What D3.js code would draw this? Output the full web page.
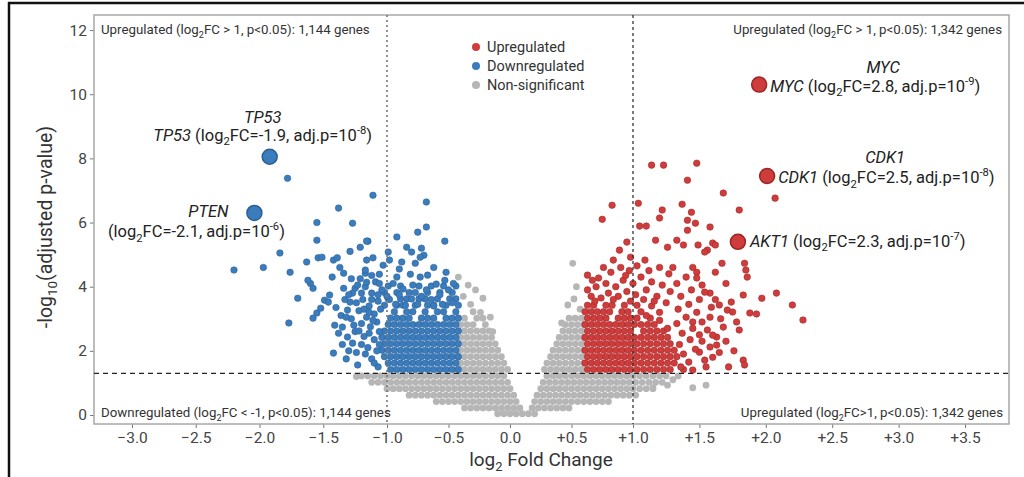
<!DOCTYPE html>
<html><head><meta charset="utf-8">
<script src="https://cdn.jsdelivr.net/npm/d3@7"></script>
<style>body{margin:0;background:#fff}svg{display:block;font-family:Roboto,"Noto Sans",sans-serif}</style>
</head><body><svg id="c" width="1024" height="477"></svg>
<script>
// ---------- DATA ----------
const xTicks = [-3,-2.5,-2,-1.5,-1,-0.5,0,0.5,1,1.5,2,2.5,3,3.5];
const yTicks = [0,2,4,6,8,10,12];
const fcThresholds = [-1, 1];
const pThreshold = 1.3;

// Non-significant genes, dense band: [y, [x...]]
const nsRows = [
 [0.04,[-0.1,-0.05,0,0.05,0.1,0.15,0.2]],
 [0.22,[-0.37,-0.32,-0.27,-0.22,-0.17,-0.12,-0.07,-0.02,0.03,0.08,0.18,0.23,0.28,0.33,0.38,0.43,0.48]],
 [0.42,[-0.6,-0.55,-0.5,-0.45,-0.4,-0.35,-0.3,-0.25,-0.2,-0.15,-0.1,-0.05,0,0.05,0.2,0.25,0.3,0.35,0.4,0.45,0.5,0.55,0.6,0.65,0.7,0.75,0.8]],
 [0.62,[-0.82,-0.77,-0.72,-0.67,-0.62,-0.57,-0.52,-0.47,-0.42,-0.37,-0.32,-0.27,-0.22,-0.17,-0.12,-0.07,-0.02,0.03,0.22,0.27,0.32,0.37,0.42,0.47,0.52,0.57,0.62,0.67,0.72,0.77,0.82,0.87,0.92,0.97,1.02]],
 [0.82,[-1,-0.95,-0.9,-0.85,-0.8,-0.75,-0.7,-0.65,-0.6,-0.55,-0.5,-0.45,-0.4,-0.35,-0.3,-0.25,-0.2,-0.15,-0.1,-0.05,0,0.25,0.3,0.35,0.4,0.45,0.5,0.55,0.6,0.65,0.7,0.75,0.8,0.85,0.9,0.95,1,1.05,1.1,1.15]],
 [1.02,[-1.12,-1.07,-1.02,-0.97,-0.92,-0.87,-0.82,-0.77,-0.72,-0.67,-0.62,-0.57,-0.52,-0.47,-0.42,-0.37,-0.32,-0.27,-0.22,-0.17,-0.12,-0.07,-0.02,0.27,0.32,0.37,0.42,0.47,0.52,0.57,0.62,0.67,0.72,0.77,0.82,0.87,0.92,0.97,1.02,1.07,1.12,1.17,1.22]],
 [1.22,[-1.2,-1.15,-1.1,-1.05,-1,-0.95,-0.9,-0.85,-0.8,-0.75,-0.7,-0.65,-0.6,-0.55,-0.5,-0.45,-0.4,-0.35,-0.3,-0.25,-0.2,-0.15,-0.1,-0.05,0.3,0.35,0.4,0.45,0.5,0.55,0.6,0.65,0.7,0.75,0.8,0.85,0.9,0.95,1,1.05,1.1,1.15,1.2,1.25]],
 [1.42,[-0.42,-0.37,-0.32,-0.27,-0.22,-0.17,-0.12,-0.07,-0.02,0.28,0.33,0.38,0.43,0.48,0.53,0.58]],
 [1.62,[-0.4,-0.35,-0.3,-0.25,-0.2,-0.15,-0.1,-0.05,0.3,0.35,0.4,0.45,0.5,0.55,0.6]],
 [1.82,[-0.42,-0.37,-0.32,-0.27,-0.22,-0.17,-0.12,-0.07,0.33,0.38,0.43,0.48,0.53,0.58]],
 [2.02,[-0.4,-0.35,-0.3,-0.25,-0.2,-0.15,-0.1,0.35,0.4,0.45,0.5,0.55,0.6]],
 [2.22,[-0.42,-0.37,-0.32,-0.27,-0.22,-0.17,-0.12,0.38,0.43,0.48,0.53,0.58]],
 [2.42,[-0.4,-0.35,-0.3,-0.25,-0.2,-0.15,0.4,0.45,0.5,0.55,0.6]],
 [2.62,[-0.42,-0.37,-0.32,-0.27,-0.22,-0.17,0.43,0.48,0.53,0.58]],
 [2.82,[-0.4,-0.35,-0.3,-0.2,0.45,0.5,0.55,0.6]],
 [3.02,[-0.37,-0.27,-0.22,0.48,0.53,0.58]]
];
const nsScatter = [[-0.42,4.3],[-0.34,4.05],[-0.28,3.9],[-0.22,3.64],[-0.24,3.2],[-0.16,3.05],[-0.32,3.45],[-0.38,3.7],[-0.3,3.22],[-0.14,2.6],
 [0.51,4.73],[0.54,4.0],[0.47,3.43],[0.52,3.62],[0.57,3.3],[0.42,2.87],[1.15,0.85],[1.26,0.93],[1.3,1.1],[1.34,1.22],[1.45,0.85],[1.55,0.93],[-1.24,1.2]];

// Downregulated genes
const downRows = [
 [1.42,[-0.97,-0.92,-0.87,-0.82,-0.77,-0.72,-0.67,-0.62,-0.57,-0.52,-0.47,-0.42]],
 [1.62,[-0.99,-0.94,-0.89,-0.84,-0.79,-0.74,-0.69,-0.64,-0.59,-0.54,-0.49,-0.44]],
 [1.82,[-1.02,-0.97,-0.92,-0.87,-0.82,-0.77,-0.72,-0.67,-0.62,-0.57,-0.52,-0.47,-0.42]],
 [2.02,[-1.04,-0.99,-0.94,-0.89,-0.84,-0.79,-0.74,-0.69,-0.64,-0.59,-0.54,-0.49,-0.44]],
 [2.22,[-1.02,-0.97,-0.92,-0.87,-0.82,-0.77,-0.72,-0.67,-0.62,-0.57,-0.52,-0.47,-0.42]],
 [2.42,[-1.04,-0.99,-0.94,-0.89,-0.84,-0.79,-0.74,-0.69,-0.64,-0.59,-0.54,-0.49,-0.44]],
 [2.62,[-1.02,-0.97,-0.92,-0.87,-0.82,-0.77,-0.72,-0.67,-0.62,-0.57,-0.52,-0.47,-0.42]],
 [2.82,[-0.99,-0.94,-0.89,-0.84,-0.79,-0.74,-0.69,-0.64,-0.59,-0.54,-0.49,-0.44]],
 [3.02,[-0.97,-0.92,-0.87,-0.82,-0.72,-0.67,-0.62,-0.52,-0.47,-0.42]],
 [3.22,[-0.94,-0.84,-0.79,-0.69,-0.59,-0.54,-0.44]],
 [3.42,[-1.02,-0.92,-0.87,-0.77,-0.67,-0.62,-0.52,-0.42]],
 [3.62,[-0.99,-0.89,-0.84,-0.74,-0.69,-0.59,-0.49,-0.44]],
 [3.82,[-1.02,-0.92,-0.82,-0.77,-0.67,-0.57,-0.47]],
 [4.02,[-0.99,-0.89,-0.74,-0.64,-0.54,-0.44]]
];
const downScatter = [[-1.07,1.5],[-1.12,1.75],[-1.08,2.0],[-1.15,2.1],[-1.1,2.35],[-1.18,2.45],[-1.06,2.6],[-1.13,2.75],[-1.2,2.85],[-1.08,2.9],
 [-1.16,3.05],[-1.1,3.15],[-1.05,3.3],[-1.22,3.25],[-1.14,3.4],[-1.07,3.55],[-1.19,3.6],[-1.12,3.8],[-1.04,3.9],[-1.25,3.95],[-1.17,4.0],[-1.09,4.15],
 [-1.2,2.2],[-1.25,2.6],[-1.28,3.0],[-1.23,1.56],[-1.27,2.24],[-1.31,2.43],[-1.42,1.93],[-1.41,2.8],[-1.35,2.74],[-1.31,3.27],[-1.29,3.52],[-1.27,3.8],
 [-1.23,4.05],[-1.17,4.42],[-1.16,4.14],[-1.34,3.95],[-1.45,3.74],[-1.49,3.58],[-1.55,3.18],[-1.58,3.02],[-1.52,3.33],[-1.46,3.52],[-1.34,4.42],[-1.43,4.3],
 [-1.37,4.6],[-1.42,4.83],[-1.39,4.9],[-1.29,5.1],[-1.21,5.23],[-1.15,5.42],[-1.6,4.1],[-1.62,4.2],[-1.58,3.95],[-1.54,4.9],[-1.51,4.92],[-1.63,4.77],
 [-1.7,3.64],[-1.77,2.87],[-1.78,7.38],[-1.11,6.85],[-1.38,6.45],[-1.55,6.0],[-1.27,5.98],[-0.92,5.55],[-1.55,5.45],[-1.84,5.05],[-2.2,4.52],[-1.97,4.6],
 [-1.76,4.45],[-1.16,4.83],[-1.35,2.2],[-1.38,2.55],[-1.32,1.75],[-1.3,2.0],[-1.36,3.1],[-1.33,3.6],[-1.4,3.35],
 [-1.1,1.62],[-1.17,1.9],[-1.24,1.95],[-1.14,2.55],[-1.22,2.62],[-1.18,3.3],[-1.24,3.5],[-1.12,3.6],[-1.3,3.75],[-1.2,3.8],[-1.07,3.75],[-1.14,3.2],
 [-1.26,2.8],[-1.06,2.2],[-1.11,2.95],[-1.32,3.05],[-1.21,4.25],[-1.28,4.25],[-1.12,4.35],[-1.06,4.1],
 [-0.68,6.64],[-0.68,5.86],[-0.75,5.7],[-0.53,5.42],[-1.16,5.42],[-0.84,5.23],[-0.8,5.08],[-0.72,5.2],[-0.7,4.98],[-0.73,4.92],[-0.99,5.08],[-0.98,4.83],
 [-1.03,4.67],[-1.11,4.9],[-1.17,4.52],[-0.88,4.77],[-0.77,4.73],[-0.52,4.45],[-0.53,4.2],[-0.67,4.36],[-0.73,4.3],[-0.81,4.39],[-0.92,4.3],[-1.06,4.39],
 [-0.6,4.08],[-0.68,3.9],[-0.79,4.05],[-0.87,3.93],[-0.95,4.1],[-0.5,3.9],[-0.57,3.75],[-0.64,3.6],[-0.72,3.7],[-0.8,3.62],[-0.9,3.75],[-0.98,3.6],
 [-0.47,3.5],[-0.55,3.45],[-0.62,3.4],[-0.75,3.45],[-0.85,3.42],[-0.93,3.45],[-1.0,3.7],[-0.46,4.1],[-0.62,4.6],[-0.9,4.55]];

// Upregulated genes
const upRows = [
 [1.42,[0.63,0.68,0.73,0.78,0.83,0.88,0.93,0.98,1.03,1.08,1.13,1.18,1.23,1.28,1.38]],
 [1.62,[0.61,0.66,0.71,0.76,0.81,0.86,0.91,0.96,1.01,1.06,1.11,1.16,1.21,1.26,1.31]],
 [1.82,[0.63,0.68,0.73,0.78,0.83,0.88,0.93,0.98,1.03,1.08,1.13,1.18,1.23,1.28,1.33]],
 [2.02,[0.61,0.66,0.71,0.76,0.81,0.86,0.91,0.96,1.01,1.06,1.11,1.16,1.21,1.26,1.31]],
 [2.22,[0.63,0.68,0.73,0.78,0.83,0.88,0.93,0.98,1.03,1.08,1.13,1.18,1.23,1.28]],
 [2.42,[0.61,0.66,0.71,0.76,0.81,0.86,0.91,0.96,1.01,1.06,1.11,1.16,1.21,1.26]],
 [2.62,[0.63,0.68,0.73,0.78,0.83,0.88,0.93,0.98,1.08,1.13,1.18,1.23]],
 [2.82,[0.61,0.66,0.71,0.76,0.81,0.86,0.91,0.96,1.01,1.06,1.11,1.16]],
 [3.02,[0.63,0.68,0.73,0.78,0.88,0.93,0.98,1.03,1.13]],
 [3.22,[0.61,0.66,0.71,0.76,0.81,0.91,0.96,1.06]],
 [3.42,[0.63,0.68,0.78,0.83,0.93,1.03]]
];
const upScatter = [[1.14,7.79],[1.23,7.79],[1.48,7.85],[1.41,7.32],[1.04,6.6],[0.83,6.54],[0.75,6.1],[1.22,6.39],[1.2,6.14],[1.37,6.57],[1.44,6.32],
 [1.41,6.07],[1.47,5.98],[1.41,5.76],[1.05,5.89],[1.1,5.89],[1.58,5.86],[0.95,5.39],[1.17,5.45],[1.26,5.23],[1.33,5.45],[1.38,5.3],[1.49,5.3],[1.56,5.14],
 [1.6,5.36],[0.84,4.83],[0.89,5.14],[0.98,4.92],[1.09,4.83],[0.63,4.36],[0.72,4.27],[1.62,4.45],[1.58,3.8],[1.59,3.36],[1.58,3.05],[1.56,2.65],[1.63,2.43],
 [1.58,2.12],[1.6,1.8],[1.68,6.92],[2.07,6.76],[1.8,6.39],[1.62,5.3],[1.54,5.08],[1.67,4.73],[1.84,4.73],[1.85,4.52],[1.86,4.3],[1.83,3.74],[1.97,3.64],
 [2.08,3.8],[2.2,3.43],[2.28,2.96],[1.74,3.52],[1.71,3.27],[1.75,3.21],[1.68,2.74],[1.8,2.65],[1.88,3.18],[1.93,3.15],[1.6,2.49],[1.63,2.18],[1.5,1.96],
 [1.54,1.71],[1.83,1.71],[1.84,1.56],[1.52,2.9],[1.45,2.9],
 [0.66,3.7],[0.74,3.65],[0.8,3.8],[0.88,3.7],[0.95,3.85],[1.02,3.75],[1.1,3.9],[1.18,3.7],[0.7,4.0],[0.78,4.1],[0.86,4.0],[0.92,4.2],[1.0,4.1],[1.06,4.3],
 [1.14,4.15],[1.22,4.05],[1.28,3.85],[0.82,4.45],[0.9,4.6],[0.97,4.5],[1.03,4.65],[1.12,4.5],[1.2,4.6],[1.27,4.4],[0.76,4.6],
 [0.63,3.9],[0.69,3.55],[0.84,3.6],[0.98,3.55],[1.08,3.6],[1.14,3.4],[1.2,3.2],[1.25,3.5],[1.1,3.1],[1.2,2.95],[1.26,2.7],[0.67,4.2],[0.94,4.35],[1.16,3.55],
 [1.36,1.5],[1.42,1.65],[1.38,1.9],[1.47,2.05],[1.35,2.2],[1.43,2.35],[1.5,2.5],[1.37,2.55],[1.45,2.7],[1.33,2.85],[1.4,3.05],[1.48,3.2],[1.34,3.3],
 [1.42,3.45],[1.5,3.6],[1.36,3.7],[1.44,3.9],[1.52,4.05],[1.33,4.1],[1.4,4.3],[1.48,4.45],[1.3,4.6],[1.55,1.5],[1.52,2.3],[1.45,1.4],[1.65,1.95],
 [1.7,2.3],[1.66,3.0],[1.62,3.6],[1.7,4.1],[1.76,2.0],[1.78,2.9],[1.72,1.5],[1.45,4.6],[1.48,4.27],[1.54,3.83],[1.65,3.43]];

// Highlighted genes
const geneNames = ["TP53","PTEN","MYC","CDK1","AKT1"];
const geneGroup = ["down","down","up","up","up"];
const geneX = [-1.92,-2.04,1.95,2.01,1.79];
const geneY = [8.05,6.3,10.3,7.45,5.4];
const geneLabelFC = ["-1.9","-2.1","2.8","2.5","2.3"];
const geneLabelExp = ["-8","-6","-9","-8","-7"];

const legendLabels = ["Upregulated","Downregulated","Non-significant"];
const cornerNotes = [
 [{t:"Upregulated (log"},{t:"2",sub:1},{t:"FC > 1, p<0.05): 1,144 genes"}],
 [{t:"Upregulated (log"},{t:"2",sub:1},{t:"FC > 1, p<0.05): 1,342 genes"}],
 [{t:"Downregulated (log"},{t:"2",sub:1},{t:"FC < -1, p<0.05): 1,144 genes"}],
 [{t:"Upregulated (log"},{t:"2",sub:1},{t:"FC>1, p<0.05): 1,342 genes"}]
];

// ---------- DRAW ----------
const svg = d3.select("#c");
const col = {up:"#cf3c3c", down:"#3b7cbd", ns:"#b6b6b6"};
const stroke = {up:"#9c2424", down:"#2b5f95", ns:"none"};

const x = d3.scaleLinear().domain([-3.3,-3,-1,1,3.5,3.83]).range([94,132,387,633,965,1009]);
const y = d3.scaleLinear().domain([-0.28,12.47]).range([424,15]);

function flat(rows, scatter){ const o=[]; rows.forEach(r=>r[1].forEach(v=>o.push([v,r[0]]))); return o.concat(scatter); }
const nsPts = flat(nsRows, nsScatter), downPts = flat(downRows, downScatter), upPts = flat(upRows, upScatter);

// outer frame
svg.append("line").attr("x1",8).attr("x2",1024).attr("y1",3).attr("y2",3).attr("stroke","#111").attr("stroke-width",2.5);
svg.append("line").attr("x1",9).attr("x2",9).attr("y1",2).attr("y2",477).attr("stroke","#111").attr("stroke-width",2.5);

// axes
const xAxis = d3.axisBottom(x).tickValues(xTicks).tickSize(4).tickPadding(4)
  .tickFormat(d => d===0 ? "0.0" : d>0 ? "+"+d.toFixed(1) : "\u2212"+Math.abs(d).toFixed(1));
const gx = svg.append("g").attr("transform","translate(0,424)").call(xAxis);
const yAxis = d3.axisLeft(y).tickValues(yTicks).tickSize(4).tickPadding(3);
const gy = svg.append("g").attr("transform","translate(94,0)").call(yAxis);
[gx,gy].forEach(g=>{ g.select(".domain").remove(); g.selectAll("line").attr("stroke","#777");
  g.selectAll("text").attr("fill","#444").attr("font-size",15.5).attr("font-family","Roboto"); });

// plot border
svg.append("rect").attr("x",94).attr("y",15).attr("width",915).attr("height",409)
  .attr("fill","none").attr("stroke","#a8a8a8").attr("stroke-width",1.5);

// points
const gp = svg.append("g");
function dots(pts, k, r){ gp.append("g").selectAll("circle").data(pts).join("circle")
  .attr("cx",d=>x(d[0])).attr("cy",d=>y(d[1])).attr("r",r).attr("fill",col[k])
  .attr("stroke",stroke[k]).attr("stroke-width",0.5); }
dots(nsPts,"ns",3.4); dots(downPts,"down",3.3); dots(upPts,"up",3.3);

// threshold lines
svg.append("line").attr("x1",94).attr("x2",1009).attr("y1",y(pThreshold)).attr("y2",y(pThreshold))
  .attr("stroke","#222").attr("stroke-width",1.2).attr("stroke-dasharray","5,4");
svg.append("line").attr("x1",x(fcThresholds[0])).attr("x2",x(fcThresholds[0])).attr("y1",15).attr("y2",424)
  .attr("stroke","#777").attr("stroke-width",1.6).attr("stroke-dasharray","2,3");
svg.append("line").attr("x1",x(fcThresholds[1])).attr("x2",x(fcThresholds[1])).attr("y1",15).attr("y2",424)
  .attr("stroke","#333").attr("stroke-width",1.3).attr("stroke-dasharray","3,3");

// rich text helper
function rich(parent, parts, fs){
  let shift = 0;
  parts.forEach(p=>{
    const t = parent.append("tspan").text(p.t);
    const target = p.sub ? 0.28*fs : p.sup ? -0.42*fs : 0;
    if (target !== shift){ t.attr("dy", target-shift); shift = target; }
    if (p.sub||p.sup) t.attr("font-size", fs*0.68);
    if (p.i) t.attr("font-style","italic");
  });
}

// corner notes
const notePos = [[101,34,"start"],[1002,34,"end"],[101,417,"start"],[1003,417,"end"]];
cornerNotes.forEach((parts,i)=>{
  const t = svg.append("text").attr("x",notePos[i][0]).attr("y",notePos[i][1]).attr("text-anchor",notePos[i][2])
    .attr("font-size",13.3).attr("fill","#333").attr("font-family","Roboto");
  rich(t, parts, 13.3);
});

// legend
const legKeys = ["up","down","ns"];
legendLabels.forEach((l,i)=>{
  const yy = 47 + i*19;
  svg.append("circle").attr("cx",476).attr("cy",yy).attr("r",4).attr("fill",col[legKeys[i]]);
  svg.append("text").attr("x",487).attr("y",yy+5).attr("font-size",14.5).attr("fill","#333").text(l);
});

// highlighted genes
const gg = svg.append("g");
geneNames.forEach((g,i)=>{
  gg.append("circle").attr("cx",x(geneX[i])).attr("cy",y(geneY[i])).attr("r",7.5)
    .attr("fill",col[geneGroup[i]]).attr("stroke",stroke[geneGroup[i]]).attr("stroke-width",1.5);
});
// label layout: [header dx, header dy, line dx, line dy, anchor, showHeader, nameInLine]
const lab = [
  [-7,-34,-7,-16,"middle",1,1],
  [-46,4,-58,24,"middle",1,0],
  [124,-12,11,7,"start",1,1],
  [118,-13,11,7,"start",1,1],
  [0,0,12,5,"start",0,1]
];
geneNames.forEach((g,i)=>{
  const cx = x(geneX[i]), cy = y(geneY[i]), L = lab[i];
  if (L[5]) gg.append("text").attr("x",cx+L[0]).attr("y",cy+L[1]).attr("text-anchor","middle")
     .attr("font-size",16.5).attr("font-style","italic").attr("fill","#222").text(g);
  const t = gg.append("text").attr("x",cx+L[2]).attr("y",cy+L[3]).attr("text-anchor",L[4])
     .attr("font-size",16.5).attr("fill","#222");
  const parts = [];
  if (L[6]) parts.push({t:g,i:1},{t:" (log"}); else parts.push({t:"(log"});
  parts.push({t:"2",sub:1},{t:"FC="+geneLabelFC[i]+", adj.p=10"},{t:geneLabelExp[i],sup:1},{t:")"});
  rich(t, parts, 16.5);
});

// axis titles
const yt = svg.append("text").attr("transform","translate(52,227) rotate(-90)").attr("text-anchor","middle")
  .attr("font-size",19.5).attr("fill","#333");
rich(yt,[{t:"-log"},{t:"10",sub:1},{t:"(adjusted p-value)"}],19.5);
const xt = svg.append("text").attr("x",541).attr("y",466).attr("text-anchor","middle").attr("font-size",19).attr("fill","#333");
rich(xt,[{t:"log"},{t:"2",sub:1},{t:" Fold Change"}],19);
</script></body></html>
